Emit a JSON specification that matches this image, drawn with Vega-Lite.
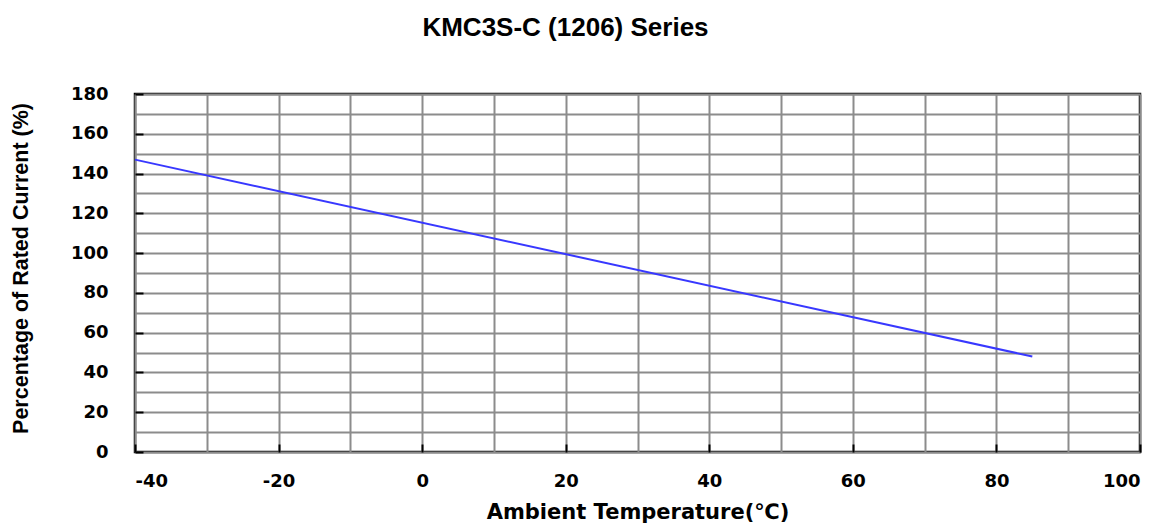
{
  "$schema": "https://vega.github.io/schema/vega-lite/v6.json",
  "autosize": "none",
  "width": 1005,
  "height": 358,
  "padding": {"left": 135, "top": 94, "right": 23, "bottom": 71},
  "background": "white",
  "title": {
    "text": "KMC3S-C (1206) Series",
    "font": "Liberation Sans",
    "fontSize": 26,
    "fontWeight": "bold",
    "color": "black",
    "anchor": "middle",
    "frame": "group",
    "dx": -72,
    "baseline": "alphabetic",
    "offset": 23
  },
  "config": {
    "view": {"stroke": "black", "strokeWidth": 2.5},
    "axis": {
      "gridColor": "#8c8c8c",
      "gridWidth": 2,
      "gridOpacity": 1,
      "domain": false,
      "tickSize": -8,
      "tickWidth": 2,
      "labelFont": "DejaVu Sans",
      "labelFontWeight": "bold",
      "labelFontSize": 18,
      "labelColor": "black",
      "titleColor": "black"
    }
  },
  "data": {
    "values": [
      {"temp": -40, "pct": 147},
      {"temp": 85, "pct": 48}
    ]
  },
  "mark": {"type": "line", "color": "#3838ff", "strokeWidth": 2},
  "encoding": {
    "x": {
      "field": "temp",
      "type": "quantitative",
      "scale": {"domain": [-40, 100], "nice": false, "zero": false},
      "axis": {
        "values": [-40, -30, -20, -10, 0, 10, 20, 30, 40, 50, 60, 70, 80, 90, 100],
        "labelExpr": "datum.value % 20 === 0 ? toString(datum.value) : ''",
        "tickColor": {"condition": {"test": "datum.value % 20 !== 0", "value": "transparent"}, "value": "black"},
        "labelPadding": 28,
        "title": "Ambient Temperature(℃)",
        "titleFont": "DejaVu Sans",
        "titleFontWeight": "bold",
        "titleFontSize": 21,
        "titleBaseline": "alphabetic",
        "titleAnchor": "middle",
        "titleY": 66
      }
    },
    "y": {
      "field": "pct",
      "type": "quantitative",
      "scale": {"domain": [0, 180], "nice": false},
      "axis": {
        "values": [0, 10, 20, 30, 40, 50, 60, 70, 80, 90, 100, 110, 120, 130, 140, 150, 160, 170, 180],
        "labelExpr": "datum.value % 20 === 0 ? toString(datum.value) : ''",
        "tickColor": {"condition": {"test": "datum.value % 20 !== 0", "value": "transparent"}, "value": "black"},
        "labelPadding": 35,
        "title": "Percentage of Rated Current (%)",
        "titleFont": "Liberation Sans",
        "titleFontWeight": "bold",
        "titleFontSize": 21.5,
        "titleAngle": 270,
        "titleBaseline": "middle",
        "titleAlign": "center",
        "titleX": -114,
        "titleY": 174
      }
    }
  }
}
